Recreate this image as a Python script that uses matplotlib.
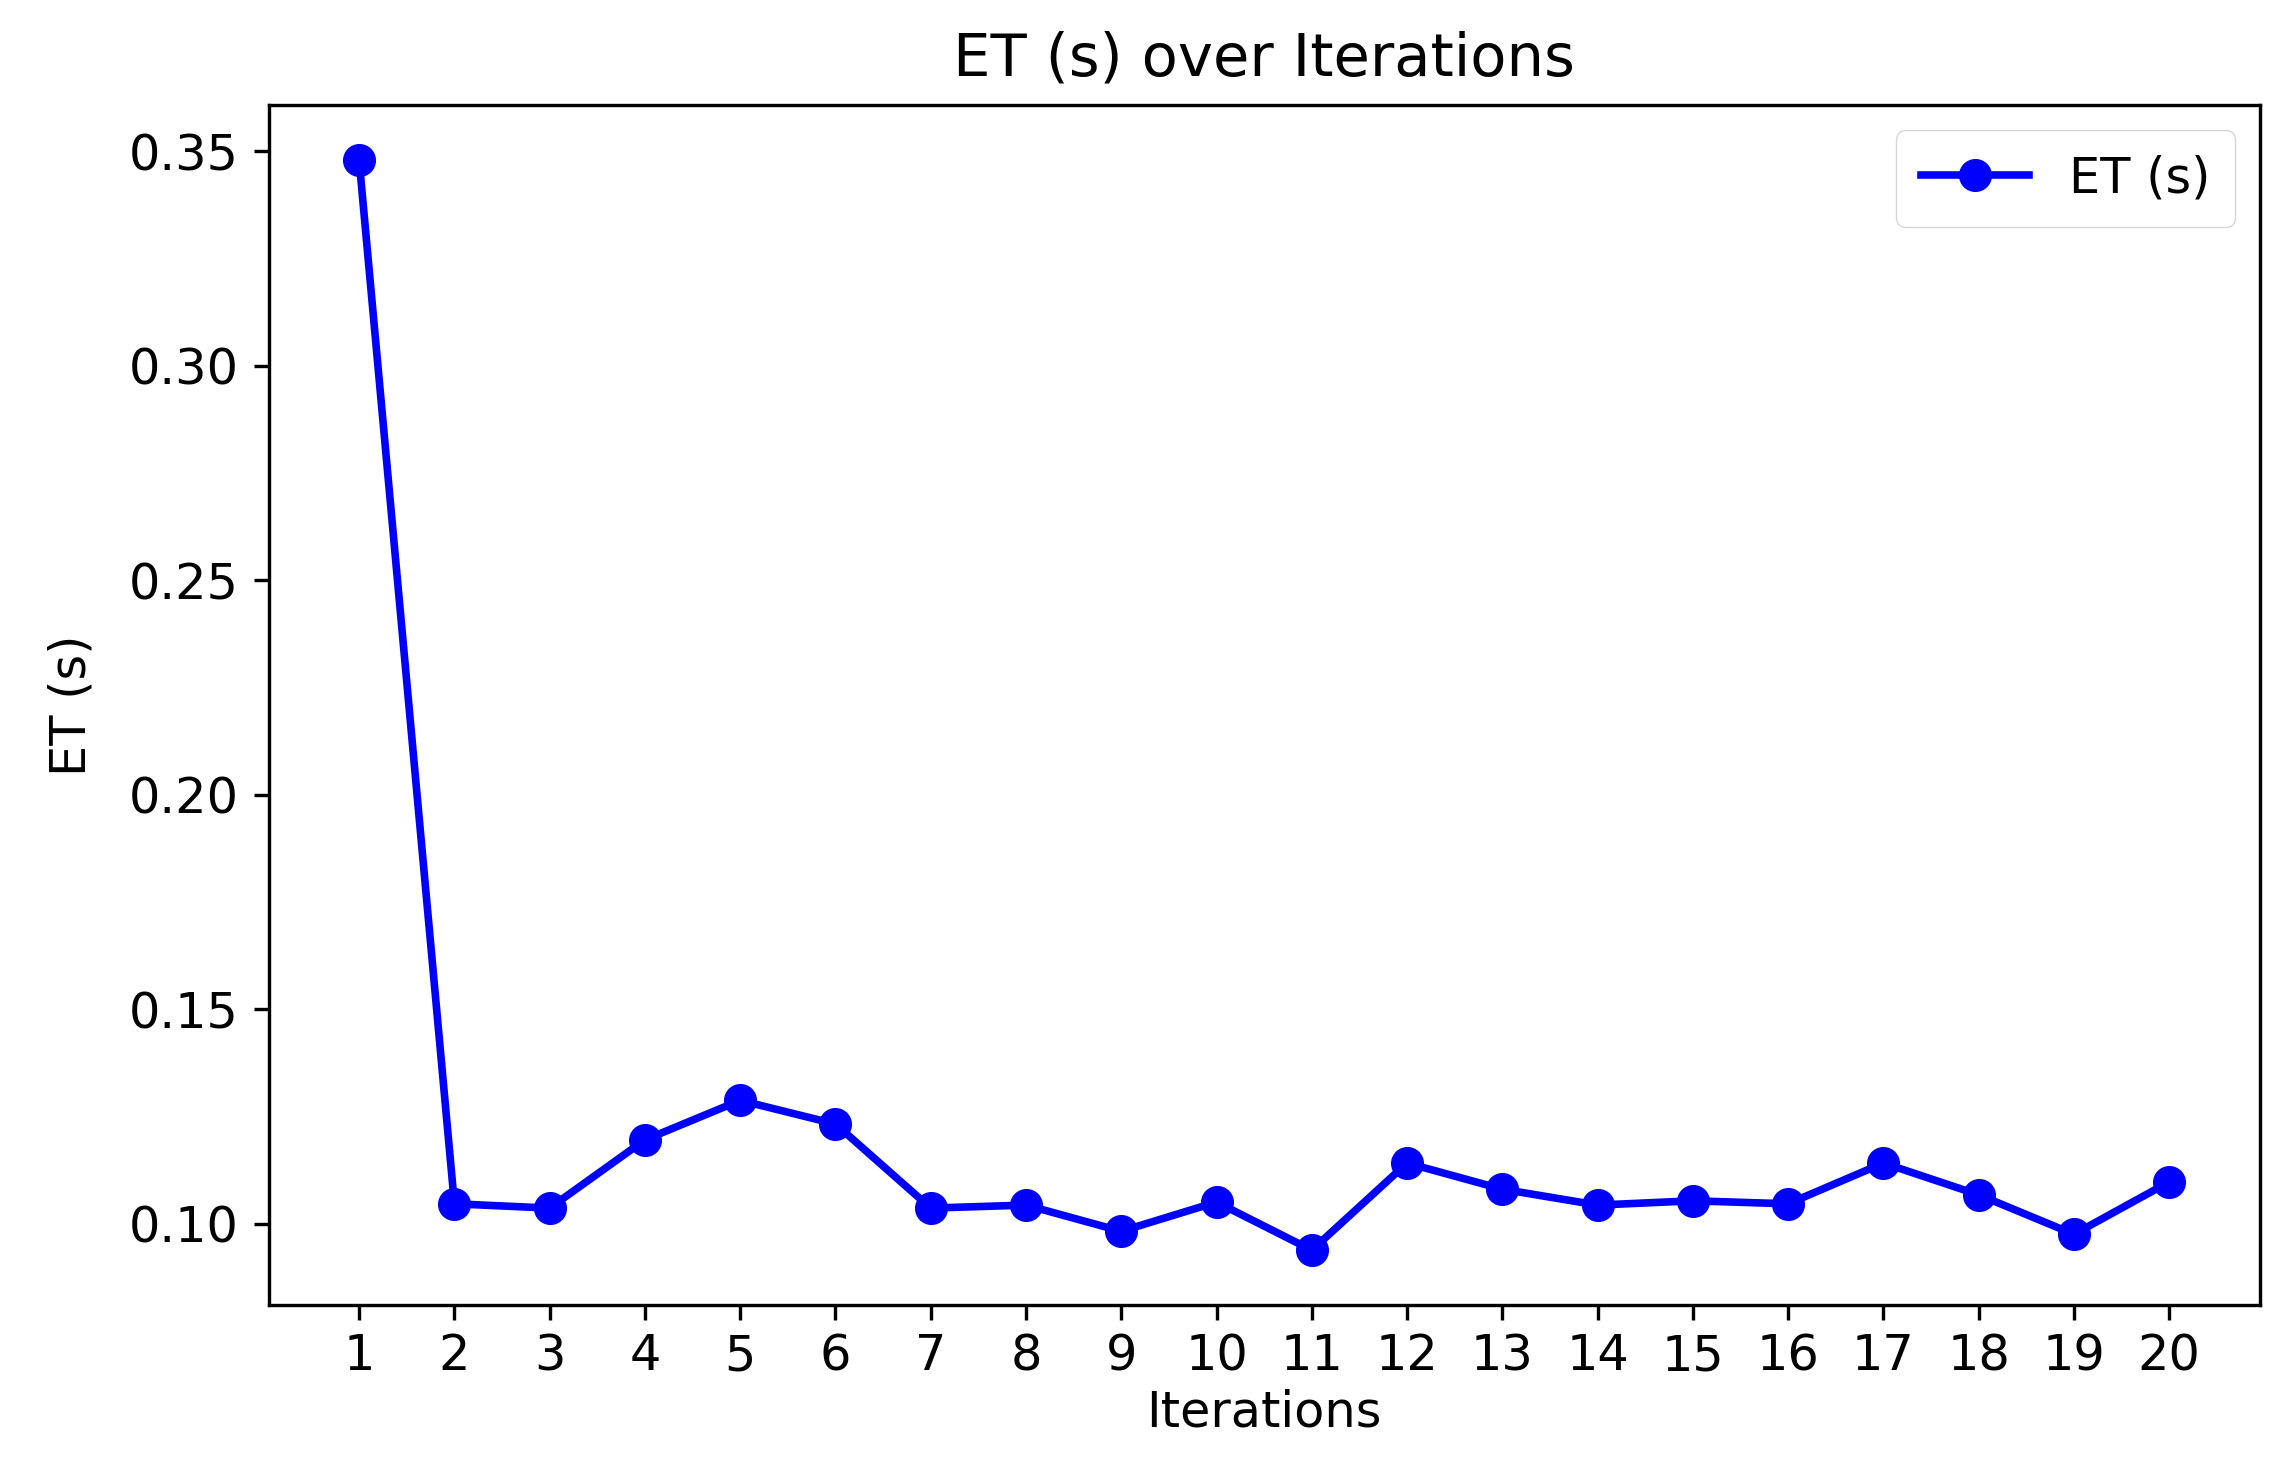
import matplotlib
matplotlib.use("Agg")
import matplotlib.pyplot as plt

# values
iterations = list(range(1, 21))
et_s = [0.348, 0.1047, 0.1037, 0.1196, 0.1288, 0.1233, 0.1037, 0.1044, 0.0983, 0.1051,
        0.0939, 0.1142, 0.1081, 0.1044, 0.1054, 0.1047, 0.1142, 0.1068, 0.0976, 0.1098]

S = 3.04  # scale from a ~100 dpi design to this canvas
F = 1.17  # reference text is drawn a bit larger
plt.rcParams.update({
    "font.size": 10 * S * F,
    "axes.linewidth": 0.8 * S,
    "xtick.major.size": 3.5 * S, "ytick.major.size": 3.5 * S,
    "xtick.major.width": 0.8 * S, "ytick.major.width": 0.8 * S,
    "xtick.major.pad": 3.0 * S, "ytick.major.pad": 3.5 * S,
    "axes.titlepad": 7 * S, "axes.labelpad": 2 * S,
})

fig = plt.figure(figsize=(22.86, 14.61), dpi=100)
ax = fig.add_axes([0.1175, 0.107, 0.871, 0.821])
ax.plot(iterations, et_s, "-o", color="blue", lw=1.8 * S, ms=7.5 * S, label="ET (s)")
ax.set_xticks(iterations)
ax.set_title("ET (s) over Iterations", fontsize=12 * S * F)
ax.set_xlabel("Iterations")
ax.set_ylabel("ET (s)", labelpad=8 * S)
ax.legend(loc="upper right", borderpad=0.5, handlelength=2.2)
fig.savefig("out.png", dpi=100)
